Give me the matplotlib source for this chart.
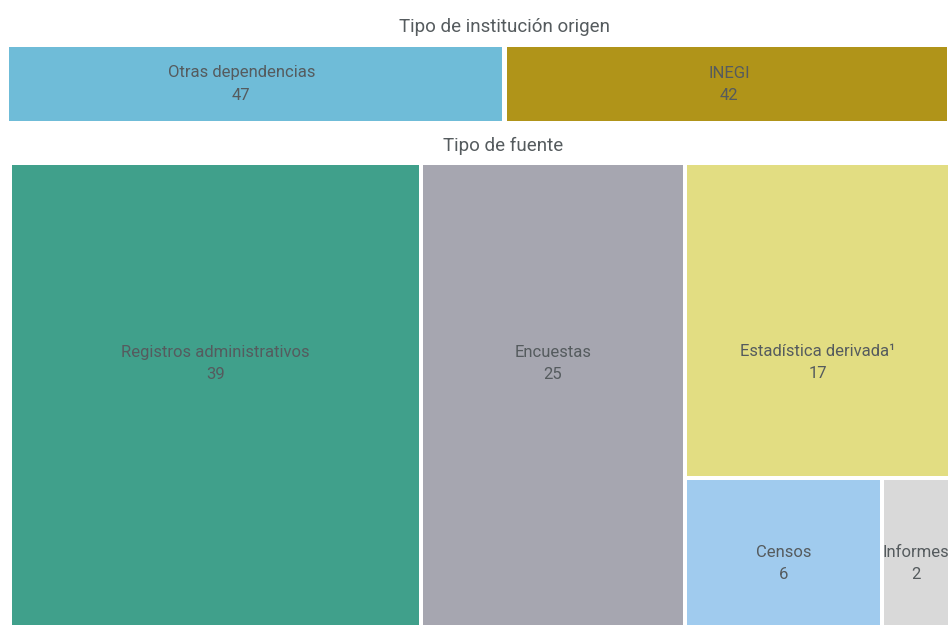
import matplotlib.pyplot as plt
from matplotlib.patches import Rectangle

# datos
origen_labels = ['Otras dependencias', 'INEGI']
origen_values = [47, 42]
origen_colors = ['#6fbcd8', '#b09419']

fuente_labels = ['Registros administrativos', 'Encuestas', 'Estadística derivada¹', 'Censos', 'Informes']
fuente_values = [39, 25, 17, 6, 2]
fuente_colors = ['#40a08b', '#a6a6b0', '#e2dd82', '#a0cbee', '#d9d9d9']

txt_color = '#555b5e'
plt.rcParams['font.family'] = ['Roboto', 'DejaVu Sans']

fig = plt.figure(figsize=(9.49, 6.25), dpi=100)
ax = fig.add_axes([0, 0, 1, 1])
ax.set_xlim(0, 949)
ax.set_ylim(625, 0)
ax.axis('off')


def tile(x, y, w, h, color, name, val, fy=0.5, dx=0):
    ax.add_patch(Rectangle((x, y), w, h, facecolor=color, edgecolor='none'))
    cy = y + h * fy
    cx = x + w / 2 + dx
    ax.text(cx, cy - 11, name, ha='center', va='center', fontsize=12, color=txt_color)
    ax.text(cx, cy + 11, str(val), ha='center', va='center', fontsize=12, color=txt_color)


# --- Tipo de institucion origen ---
ax.text(505, 27, 'Tipo de institución origen', ha='center', va='center', fontsize=13.5, color=txt_color)
gap = 5
x0, y0, W, H = 9, 47, 938, 74
scale = (W - gap * (len(origen_values) - 1)) / sum(origen_values)
x = x0
for lab, v, c, dx in zip(origen_labels, origen_values, origen_colors, [-14, 2]):
    w = v * scale
    tile(x, y0, w, H, c, lab, v, dx=dx)
    x += w + gap

# --- Tipo de fuente (treemap) ---
ax.text(503, 146, 'Tipo de fuente', ha='center', va='center', fontsize=13.5, color=txt_color)
g = 4
x0, y0, H = 12, 165, 462
W = 936
total = sum(fuente_values)
s = (W - 2 * g) / total
# columnas: registros | encuestas | resto
w1 = fuente_values[0] * s
w2 = fuente_values[1] * s
rest = sum(fuente_values[2:])
w3 = rest * s
tile(x0, y0, w1, H, fuente_colors[0], fuente_labels[0], fuente_values[0], 0.43)
tile(x0 + w1 + g, y0, w2, H, fuente_colors[1], fuente_labels[1], fuente_values[1], 0.43)
xr = x0 + w1 + w2 + 2 * g
h3 = (H - g) * fuente_values[2] / rest
tile(xr, y0, w3, h3, fuente_colors[2], fuente_labels[2], fuente_values[2], 0.635)
yb = y0 + h3 + g
hb = H - h3 - g
small = fuente_values[3] + fuente_values[4]
w4 = (w3 - g) * fuente_values[3] / small
w5 = w3 - g - w4
tile(xr, yb, w4, hb, fuente_colors[3], fuente_labels[3], fuente_values[3], 0.57)
tile(xr + w4 + g, yb, w5, hb, fuente_colors[4], fuente_labels[4], fuente_values[4], 0.57)

fig.savefig('out.png', dpi=100)
